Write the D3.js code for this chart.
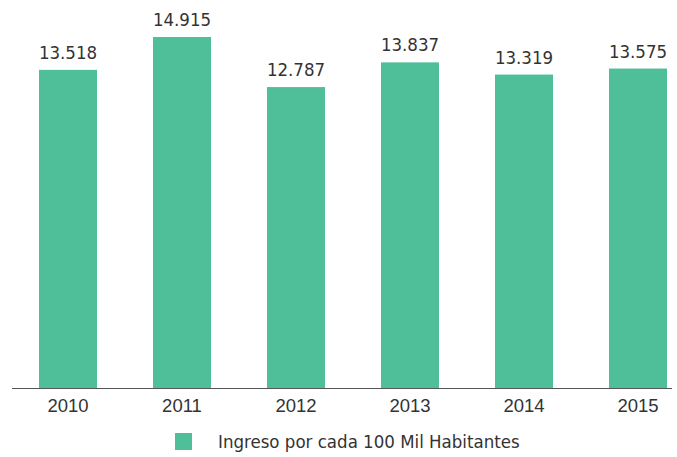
<!DOCTYPE html>
<html>
<head>
<meta charset="utf-8">
<script src="https://cdn.jsdelivr.net/npm/d3@7"></script>
<style>
  html, body { margin: 0; padding: 0; background: #fff; }
  svg { display: block; font-family: "DejaVu Sans Condensed", "DejaVu Sans", sans-serif; }
</style>
</head>
<body>
<svg id="chart" width="677" height="457"></svg>
<script>
// Ingreso por cada 100 mil habitantes, 2010–2015
const years = ["2010", "2011", "2012", "2013", "2014", "2015"];
const ingreso = [13.518, 14.915, 12.787, 13.837, 13.319, 13.575];
const seriesName = "Ingreso por cada 100 Mil Habitantes";

const barColor = "#4ebf98";
const textColor = "#333333";
const fontSize = 18.5;

const svg = d3.select("#chart");
const baseY = 388;

const x = d3.scaleBand()
  .domain(years)
  .range([11, 695])
  .paddingInner(0.491)
  .paddingOuter(0.2455);

const y = d3.scaleLinear()
  .domain([0, d3.max(ingreso)])
  .range([baseY, 37]);

const fmt = v => v.toFixed(3);

// bars
svg.append("g").selectAll("rect")
  .data(years)
  .join("rect")
  .attr("x", d => x(d))
  .attr("width", x.bandwidth())
  .attr("y", (d, i) => y(ingreso[i]))
  .attr("height", (d, i) => baseY - y(ingreso[i]))
  .attr("fill", barColor);

// value labels
svg.append("g").selectAll("text")
  .data(years)
  .join("text")
  .attr("x", d => x(d) + x.bandwidth() / 2)
  .attr("y", (d, i) => y(ingreso[i]) - 11)
  .attr("text-anchor", "middle")
  .attr("font-size", fontSize)
  .attr("fill", textColor)
  .text((d, i) => fmt(ingreso[i]));

// x axis
const axis = svg.append("g")
  .attr("transform", `translate(0,${baseY})`)
  .call(d3.axisBottom(x).tickSize(0).tickPadding(0));
axis.select(".domain").remove();
axis.selectAll("text")
  .attr("font-size", fontSize)
  .attr("font-family", null)
  .attr("fill", textColor)
  .attr("dy", null)
  .attr("y", 24);

svg.append("line")
  .attr("x1", 12).attr("x2", 672)
  .attr("y1", baseY + 0.5).attr("y2", baseY + 0.5)
  .attr("stroke", "#555")
  .attr("stroke-width", 1.2);

// legend
const legend = svg.append("g").attr("transform", "translate(175,433)");
legend.append("rect")
  .attr("width", 17).attr("height", 17)
  .attr("fill", barColor);
legend.append("text")
  .attr("x", 43).attr("y", 15)
  .attr("font-size", fontSize)
  .attr("fill", textColor)
  .text(seriesName);
</script>
</body>
</html>
